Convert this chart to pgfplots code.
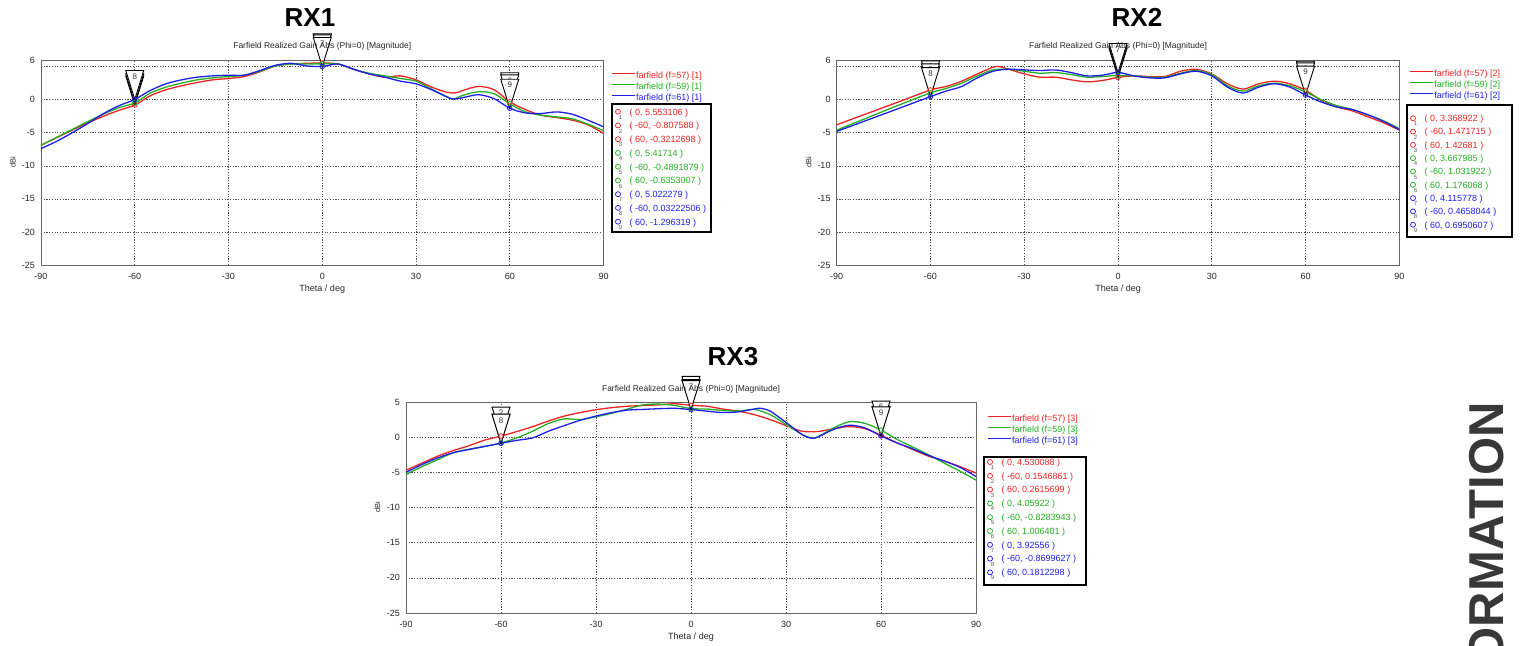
\documentclass[border=0pt]{standalone}
\usepackage{fontspec}
\setmainfont{Liberation Sans}
\usepackage{pgfplots}
\pgfplotsset{compat=1.18}
\definecolor{cred}{RGB}{235,35,35}
\definecolor{cgreen}{RGB}{35,175,35}
\definecolor{cblue}{RGB}{30,30,235}

\pgfdeclareplotmark{ctri}{%
  \pgfpathmoveto{\pgfpointorigin}%
  \pgfpathlineto{\pgfpoint{-9pt}{29pt}}%
  \pgfpathlineto{\pgfpoint{9pt}{29pt}}%
  \pgfpathclose
  \pgfusepathqfillstroke}

\pgfplotsset{cst/.style={
  scale only axis, anchor=south west, clip=false,
  xmin=-90, xmax=90, xtick={-90,-60,-30,0,30,60,90},
  grid=major,
  major grid style={black!70, line width=0.6pt, dash pattern=on 1.2pt off 1.5pt},
  extra y tick style={grid=major},
  axis line style={black!60, line width=0.8pt},
  major tick length=0pt,
  tick label style={font=\fontsize{9}{10}\selectfont, text=black!85},
  /pgf/number format/assume math mode=true,
  xticklabel style={anchor=center, yshift=-11pt},
  yticklabel style={anchor=east, inner sep=0pt, xshift=-6pt},
  xlabel={Theta / deg}, ylabel={dBi},
  xlabel style={at={(axis description cs:0.5,0)}, anchor=center, yshift=-24pt, font=\fontsize{9}{10}\selectfont, text=black!85},
  ylabel style={at={(axis description cs:-0.05,0.5)}, anchor=center, font=\fontsize{7.5}{8}\selectfont, text=black!85},
  title={Farfield Realized Gain Abs (Phi=0) [Magnitude]},
  title style={at={(axis description cs:0.5,1)}, anchor=center, yshift=8pt, font=\fontsize{8.5}{9}\selectfont, text=black!85},
  legend cell align=left,
  legend image code/.code={\draw[##1, line width=1pt] (0pt,2.5pt) -- (23pt,2.5pt);},
  legend style={anchor=north west, draw=none, fill=none, inner sep=0pt, font=\fontsize{9}{10}\selectfont, nodes={inner sep=1pt, text height=7pt, text depth=2pt}, row sep=0pt},
  every axis plot/.append style={line width=1.3pt},
}}

\newcommand\tri[3]{\addplot[forget plot, only marks, mark=ctri,
  mark options={draw=black, fill=white, line width=0.9pt, solid},
  point meta=explicit symbolic, nodes near coords,
  nodes near coords style={anchor=center, yshift=23pt, font=\fontsize{8}{8}\selectfont, text=black!80, inner sep=0pt}]
  coordinates {(#1,#2) [#3]};}

\newcommand\circs[7]{\addplot[forget plot, only marks, mark=o, mark size=2.3pt, color=#1, mark options={line width=0.8pt}]
  coordinates {(#2,#3)(#4,#5)(#6,#7)};}

\newcommand\mkrow[5]{%
  \draw[#3, line width=0.75pt] (#1+6,645-#2+1) circle[radius=2.5pt];
  \node[inner sep=0pt, font=\fontsize{6}{6}\selectfont, text=black!65] at (#1+8.5,645-#2-4.5) {#4};
  \node[inner sep=0pt, anchor=west, text=#3, font=\fontsize{9}{10}\selectfont] at (#1+17.5,645-#2) {( #5 )};}

\begin{document}
\begin{tikzpicture}[x=1pt,y=1pt]
\useasboundingbox (0,0) rectangle (1520,645);

% ---------------- RX1 ----------------
\begin{axis}[cst, at={(41pt,380pt)}, width=562.5pt, height=205pt,
  ymin=-25, ymax=6, ytick={-25,-20,-15,-10,-5,0,6}, extra y ticks={5}, extra y tick labels={},
  legend style={at={(axis description cs:1.0133,0.951)}}]
\addplot[cred, smooth, tension=0.5] coordinates {
(-90,-6.9)(-85,-5.75)(-80,-4.6)(-75,-3.5)(-70,-2.5)(-65,-1.6)(-60,-0.807588)(-55,0.6)(-50,1.5)(-45,2.1)(-40,2.6)(-35,3.0)(-30,3.2)(-25,3.5)(-20,4.2)(-15,5.1)(-10,5.4)(-5,5.5)(0,5.553106)(5,5.4)(10,4.6)(15,3.9)(20,3.4)(25,3.6)(30,3.0)(35,1.9)(40,1.1)(43,1.05)(45,1.4)(50,2.0)(55,1.5)(60,-0.3212698)(65,-1.5)(70,-2.35)(75,-2.7)(80,-3.1)(85,-3.8)(90,-5.1)};
\addlegendentry{\textcolor{cred}{farfield (f=57) [1]}}
\addplot[cgreen, smooth, tension=0.5] coordinates {
(-90,-6.9)(-85,-5.7)(-80,-4.5)(-75,-3.3)(-70,-2.2)(-65,-1.2)(-60,-0.4891879)(-55,1.0)(-50,1.9)(-45,2.5)(-40,3.0)(-35,3.3)(-30,3.5)(-25,3.7)(-20,4.3)(-15,5.1)(-10,5.4)(-5,5.4)(0,5.41714)(5,5.4)(10,4.6)(15,4.0)(20,3.6)(25,3.2)(30,2.8)(35,1.6)(40,0.4)(42,0.1)(45,0.65)(50,1.2)(55,0.9)(60,-0.6353007)(65,-1.85)(70,-2.35)(75,-2.6)(80,-2.9)(85,-3.7)(90,-4.7)};
\addlegendentry{\textcolor{cgreen}{farfield (f=59) [1]}}
\addplot[cblue, smooth, tension=0.5] coordinates {
(-90,-7.4)(-85,-6.3)(-80,-5.0)(-75,-3.6)(-70,-2.1)(-65,-0.9)(-60,0.03222506)(-55,1.4)(-50,2.4)(-45,3.0)(-40,3.4)(-35,3.6)(-30,3.7)(-25,3.7)(-20,4.4)(-15,5.2)(-10,5.5)(-5,5.1)(0,5.022279)(5,5.4)(10,4.6)(15,3.9)(20,3.4)(25,2.8)(30,2.4)(35,1.5)(40,0.4)(42,0.1)(45,0.3)(50,0.75)(55,0.15)(60,-1.296319)(65,-2.0)(70,-2.1)(75,-1.85)(80,-2.2)(85,-3.1)(90,-4.1)};
\addlegendentry{\textcolor{cblue}{farfield (f=61) [1]}}
\tri{0}{5.553106}{1}\tri{-60}{-0.807588}{2}\tri{60}{-0.3212698}{3}
\tri{0}{5.41714}{4}\tri{-60}{-0.4891879}{5}\tri{60}{-0.6353007}{6}
\tri{0}{5.022279}{7}\tri{-60}{0.03222506}{8}\tri{60}{-1.296319}{9}
\circs{cred}{0}{5.553106}{-60}{-0.807588}{60}{-0.3212698}
\circs{cgreen}{0}{5.41714}{-60}{-0.4891879}{60}{-0.6353007}
\circs{cblue}{0}{5.022279}{-60}{0.03222506}{60}{-1.296319}
\end{axis}
\draw[black, line width=1.3pt] (612,645-104) rectangle (711,645-232);
\mkrow{612}{112.7}{cred}{1}{0, 5.553106}
\mkrow{612}{126.45}{cred}{2}{-60, -0.807588}
\mkrow{612}{140.2}{cred}{3}{60, -0.3212698}
\mkrow{612}{153.95}{cgreen}{4}{0, 5.41714}
\mkrow{612}{167.7}{cgreen}{5}{-60, -0.4891879}
\mkrow{612}{181.45}{cgreen}{6}{60, -0.6353007}
\mkrow{612}{195.2}{cblue}{7}{0, 5.022279}
\mkrow{612}{208.95}{cblue}{8}{-60, 0.03222506}
\mkrow{612}{222.7}{cblue}{9}{60, -1.296319}
\node[font=\fontsize{26}{26}\selectfont\bfseries, inner sep=0pt] at (310,645-17.5) {RX1};

% ---------------- RX2 ----------------
\begin{axis}[cst, at={(836.7pt,380pt)}, width=562.6pt, height=205pt,
  ymin=-25, ymax=6, ytick={-25,-20,-15,-10,-5,0,6}, extra y ticks={5}, extra y tick labels={},
  legend style={at={(axis description cs:1.0173,0.961)}}]
\addplot[cred, smooth, tension=0.5] coordinates {
(-90,-3.8)(-80,-2.05)(-70,-0.3)(-60,1.471715)(-55,2.0)(-50,2.8)(-45,3.9)(-40,4.9)(-38,5.0)(-35,4.6)(-30,3.9)(-25,3.4)(-20,3.4)(-15,3.0)(-10,2.7)(-5,2.9)(0,3.368922)(5,3.6)(10,3.5)(15,3.5)(20,4.3)(25,4.6)(30,3.9)(35,2.4)(40,1.6)(45,2.4)(50,2.8)(55,2.4)(60,1.42681)(65,-0.1)(70,-1.1)(75,-1.7)(80,-2.6)(85,-3.5)(90,-4.6)};
\addlegendentry{\textcolor{cred}{farfield (f=57) [2]}}
\addplot[cgreen, smooth, tension=0.5] coordinates {
(-90,-4.6)(-80,-2.7)(-70,-0.8)(-60,1.031922)(-55,1.7)(-50,2.5)(-45,3.6)(-40,4.5)(-35,4.6)(-30,4.3)(-25,4.0)(-20,4.1)(-15,3.8)(-10,3.4)(-5,3.5)(0,3.667985)(5,3.6)(10,3.4)(15,3.4)(20,4.0)(25,4.4)(30,3.8)(35,2.1)(40,1.3)(45,2.1)(50,2.5)(55,2.1)(60,1.176068)(65,0.0)(70,-0.9)(75,-1.5)(80,-2.3)(85,-3.2)(90,-4.4)};
\addlegendentry{\textcolor{cgreen}{farfield (f=59) [2]}}
\addplot[cblue, smooth, tension=0.5] coordinates {
(-90,-4.8)(-80,-3.05)(-70,-1.3)(-60,0.4658044)(-55,1.3)(-50,2.0)(-45,3.3)(-40,4.3)(-35,4.6)(-30,4.5)(-25,4.4)(-20,4.5)(-15,4.1)(-10,3.6)(-5,3.7)(0,4.115778)(5,3.6)(10,3.3)(15,3.3)(20,3.9)(25,4.3)(30,3.6)(35,1.9)(40,1.0)(45,1.9)(50,2.4)(55,1.9)(60,0.6950607)(65,-0.35)(70,-1.1)(75,-1.5)(80,-2.3)(85,-3.3)(90,-4.5)};
\addlegendentry{\textcolor{cblue}{farfield (f=61) [2]}}
\tri{0}{3.368922}{1}\tri{-60}{1.471715}{2}\tri{60}{1.42681}{3}
\tri{0}{3.667985}{4}\tri{-60}{1.031922}{5}\tri{60}{1.176068}{6}
\tri{0}{4.115778}{7}\tri{-60}{0.4658044}{8}\tri{60}{0.6950607}{9}
\circs{cred}{0}{3.368922}{-60}{1.471715}{60}{1.42681}
\circs{cgreen}{0}{3.667985}{-60}{1.031922}{60}{1.176068}
\circs{cblue}{0}{4.115778}{-60}{0.4658044}{60}{0.6950607}
\end{axis}
\draw[black, line width=1.3pt] (1407,645-105) rectangle (1512,645-237);
\mkrow{1407}{119.3}{cred}{1}{0, 3.368922}
\mkrow{1407}{132.6}{cred}{2}{-60, 1.471715}
\mkrow{1407}{145.9}{cred}{3}{60, 1.42681}
\mkrow{1407}{159.2}{cgreen}{4}{0, 3.667985}
\mkrow{1407}{172.5}{cgreen}{5}{-60, 1.031922}
\mkrow{1407}{185.8}{cgreen}{6}{60, 1.176068}
\mkrow{1407}{199.1}{cblue}{7}{0, 4.115778}
\mkrow{1407}{212.4}{cblue}{8}{-60, 0.4658044}
\mkrow{1407}{225.7}{cblue}{9}{60, 0.6950607}
\node[font=\fontsize{26}{26}\selectfont\bfseries, inner sep=0pt] at (1137,645-17.5) {RX2};

% ---------------- RX3 ----------------
\begin{axis}[cst, at={(406pt,32pt)}, width=570pt, height=211pt,
  ymin=-25, ymax=5, ytick={-25,-20,-15,-10,-5,0,5},
  title style={yshift=-1pt},
  legend style={at={(axis description cs:1.019,0.948)}}]
\addplot[cred, smooth, tension=0.5] coordinates {
(-90,-4.7)(-85,-3.7)(-80,-2.7)(-75,-1.9)(-70,-1.2)(-65,-0.4)(-60,0.1546861)(-55,0.8)(-50,1.5)(-45,2.3)(-40,3.0)(-35,3.5)(-30,3.9)(-25,4.2)(-20,4.4)(-15,4.5)(-10,4.6)(-5,4.75)(0,4.530088)(5,4.4)(10,4.0)(15,3.7)(20,3.2)(25,2.5)(30,1.65)(35,0.85)(40,0.8)(45,1.2)(50,1.5)(55,1.2)(60,0.2615699)(65,-0.8)(70,-1.75)(75,-2.7)(80,-3.4)(85,-4.2)(90,-5.1)};
\addlegendentry{\textcolor{cred}{farfield (f=57) [3]}}
\addplot[cgreen, smooth, tension=0.5] coordinates {
(-90,-5.3)(-85,-4.2)(-80,-3.2)(-75,-2.2)(-70,-1.7)(-65,-1.3)(-60,-0.8283943)(-55,-0.1)(-50,0.85)(-45,1.95)(-40,2.6)(-35,2.5)(-30,2.9)(-25,3.4)(-20,4.0)(-15,4.6)(-10,4.7)(-5,4.5)(0,4.05922)(5,4.0)(10,3.8)(15,3.7)(20,3.95)(25,3.2)(30,1.8)(35,0.4)(38,-0.1)(40,0.05)(45,1.3)(50,2.2)(55,1.95)(60,1.006401)(65,-0.3)(70,-1.4)(75,-2.5)(80,-3.7)(85,-4.85)(90,-6.1)};
\addlegendentry{\textcolor{cgreen}{farfield (f=59) [3]}}
\addplot[cblue, smooth, tension=0.5] coordinates {
(-90,-5.0)(-85,-3.9)(-80,-2.95)(-75,-2.2)(-70,-1.75)(-65,-1.3)(-60,-0.8699627)(-55,-0.45)(-50,-0.1)(-45,0.85)(-40,1.65)(-35,2.4)(-30,3.0)(-25,3.5)(-20,3.85)(-15,3.95)(-10,4.05)(-5,4.1)(0,3.92556)(5,3.7)(10,3.5)(15,3.6)(20,4.0)(22,4.1)(25,3.7)(30,2.1)(35,0.4)(38,-0.15)(40,0.0)(45,1.1)(50,1.7)(55,1.3)(60,0.1812298)(65,-0.8)(70,-1.65)(75,-2.6)(80,-3.4)(85,-4.3)(90,-5.6)};
\addlegendentry{\textcolor{cblue}{farfield (f=61) [3]}}
\tri{0}{4.530088}{1}\tri{-60}{0.1546861}{2}\tri{60}{0.2615699}{3}
\tri{0}{4.05922}{4}\tri{-60}{-0.8283943}{5}\tri{60}{1.006401}{6}
\tri{0}{3.92556}{7}\tri{-60}{-0.8699627}{8}\tri{60}{0.1812298}{9}
\circs{cred}{0}{4.530088}{-60}{0.1546861}{60}{0.2615699}
\circs{cgreen}{0}{4.05922}{-60}{-0.8283943}{60}{1.006401}
\circs{cblue}{0}{3.92556}{-60}{-0.8699627}{60}{0.1812298}
\end{axis}
\draw[black, line width=1.3pt] (984,645-457) rectangle (1086,645-585);
\mkrow{984}{463}{cred}{1}{0, 4.530088}
\mkrow{984}{476.8}{cred}{2}{-60, 0.1546861}
\mkrow{984}{490.6}{cred}{3}{60, 0.2615699}
\mkrow{984}{504.4}{cgreen}{4}{0, 4.05922}
\mkrow{984}{518.2}{cgreen}{5}{-60, -0.8283943}
\mkrow{984}{532}{cgreen}{6}{60, 1.006401}
\mkrow{984}{545.8}{cblue}{7}{0, 3.92556}
\mkrow{984}{559.6}{cblue}{8}{-60, -0.8699627}
\mkrow{984}{573.4}{cblue}{9}{60, 0.1812298}
\node[font=\fontsize{26}{26}\selectfont\bfseries, inner sep=0pt] at (733,645-356.5) {RX3};

% ---------------- side text ----------------
\begin{scope}
\clip (0,0) rectangle (1520,645);
\node[rotate=90, anchor=base east, inner sep=0pt, font=\fontsize{49}{49}\selectfont\bfseries, text=black!78] at (1503,645-402) {INFORMATION};
\end{scope}
\end{tikzpicture}
\end{document}
